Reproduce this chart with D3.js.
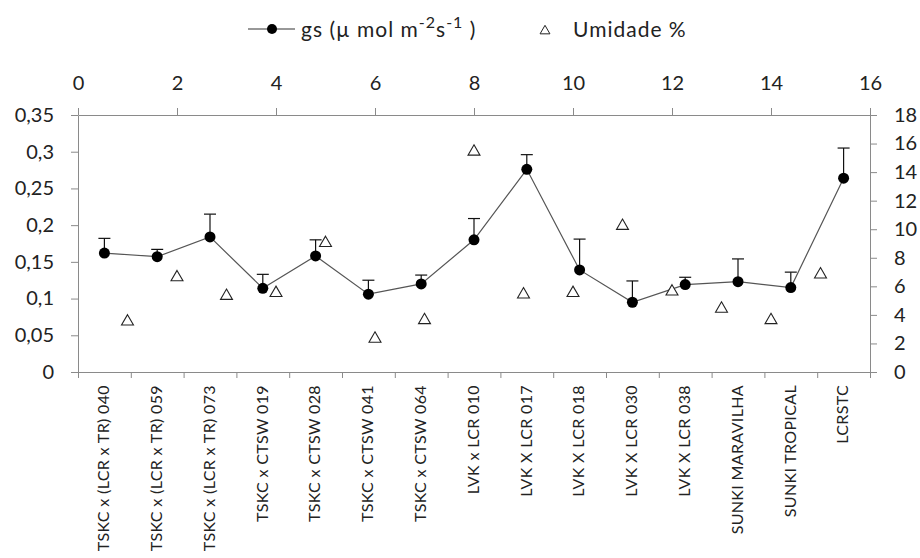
<!DOCTYPE html>
<html>
<head>
<meta charset="utf-8">
<script src="https://cdn.jsdelivr.net/npm/d3@7"></script>
<style>
  html, body { margin: 0; padding: 0; background: #fff; }
  svg { display: block; }
  text { font-family: Lato, "Open Sans", sans-serif; fill: #222; }
</style>
</head>
<body>
<svg id="chart" width="920" height="558"></svg>
<script>
// Genotypes along the category axis
const categories = [
  "TSKC x (LCR x TR) 040",
  "TSKC x (LCR x TR) 059",
  "TSKC x (LCR x TR) 073",
  "TSKC x CTSW 019",
  "TSKC x CTSW 028",
  "TSKC x CTSW 041",
  "TSKC x CTSW 064",
  "LVK x LCR 010",
  "LVK X LCR 017",
  "LVK X LCR 018",
  "LVK X LCR 030",
  "LVK X LCR 038",
  "SUNKI MARAVILHA",
  "SUNKI TROPICAL",
  "LCRSTC"
];

// Stomatal conductance gs (µmol m-2 s-1) and its upper error
const gsValues = [0.162, 0.157, 0.184, 0.114, 0.158, 0.106, 0.120, 0.180, 0.276, 0.139, 0.095, 0.119, 0.123, 0.115, 0.264];
const gsError  = [0.020, 0.010, 0.031, 0.019, 0.022, 0.019, 0.012, 0.029, 0.020, 0.042, 0.029, 0.010, 0.031, 0.021, 0.041];

// Soil moisture (%) plotted against the secondary axes
const umidadeX = [1, 2, 3, 4, 5, 6, 7, 8, 9, 10, 11, 12, 13, 14, 15];
const umidadeValues = [3.6, 6.7, 5.4, 5.6, 9.1, 2.4, 3.7, 15.5, 5.5, 5.6, 10.3, 5.7, 4.5, 3.7, 6.9];

// Tick values
const leftTicks = [0, 0.05, 0.1, 0.15, 0.2, 0.25, 0.3, 0.35];
const rightTicks = [0, 2, 4, 6, 8, 10, 12, 14, 16, 18];
const topTicks = [0, 2, 4, 6, 8, 10, 12, 14, 16];

const svg = d3.select("#chart");
const L = 78, R = 870, T = 115, B = 372;
const axisColor = "#8a8a8a";

const xBand = d3.scaleBand().domain(categories).range([L, R]);
const xTop = d3.scaleLinear().domain([0, 16]).range([L, R]);
const yLeft = d3.scaleLinear().domain([0, 0.35]).range([B, T]);
const yRight = d3.scaleLinear().domain([0, 18]).range([B, T]);
const xEdge = d3.scaleLinear().domain([0, categories.length]).range([L, R]);

const fmtComma = d => String(d).replace(".", ",");

function styleAxis(g, size) {
  g.select(".domain").attr("stroke", axisColor).attr("stroke-width", 1);
  g.selectAll(".tick line").attr("stroke", axisColor);
  g.selectAll(".tick text").attr("font-size", size).attr("fill", "#222")
    .attr("font-family", "Lato, 'Open Sans', sans-serif");
}

// Left axis
svg.append("g").attr("transform", `translate(${L},0)`)
  .call(d3.axisLeft(yLeft).tickValues(leftTicks).tickFormat(fmtComma)
    .tickSize(7).tickSizeOuter(0).tickPadding(17))
  .call(g => styleAxis(g, 20));

// Right axis
svg.append("g").attr("transform", `translate(${R},0)`)
  .call(d3.axisRight(yRight).tickValues(rightTicks)
    .tickSize(7).tickSizeOuter(0).tickPadding(17))
  .call(g => styleAxis(g, 20));

// Top axis
svg.append("g").attr("transform", `translate(0,${T})`)
  .call(d3.axisTop(xTop).tickValues(topTicks)
    .tickSize(7).tickSizeOuter(0).tickPadding(18))
  .call(g => styleAxis(g, 20));

// Bottom category axis: ticks between categories
svg.append("g").attr("transform", `translate(0,${B})`)
  .call(d3.axisBottom(xEdge).ticks(categories.length).tickFormat("")
    .tickSize(6).tickSizeOuter(0))
  .call(g => styleAxis(g, 15));

// Category labels, rotated
svg.append("g").selectAll("text")
  .data(categories)
  .join("text")
  .attr("transform", d => `translate(${xBand(d) + xBand.bandwidth() / 2 - 1},385) rotate(-90)`)
  .attr("text-anchor", "end")
  .attr("dy", "0.36em")
  .attr("font-size", 16)
  .attr("letter-spacing", 0.35)
  .text(d => d);

// gs line
const gsData = categories.map((c, i) => ({ c, v: gsValues[i], e: gsError[i] }));
const cx = d => xBand(d.c) + xBand.bandwidth() / 2;

svg.append("path")
  .datum(gsData)
  .attr("fill", "none")
  .attr("stroke", "#555")
  .attr("stroke-width", 1.2)
  .attr("d", d3.line().x(cx).y(d => yLeft(d.v)));

// Upper error bars
const eb = svg.append("g").attr("stroke", "#111").attr("stroke-width", 1.2);
eb.selectAll("line.v").data(gsData).join("line").attr("class", "v")
  .attr("x1", cx).attr("x2", cx)
  .attr("y1", d => yLeft(d.v)).attr("y2", d => yLeft(d.v + d.e));
eb.selectAll("line.c").data(gsData).join("line").attr("class", "c")
  .attr("x1", d => cx(d) - 6).attr("x2", d => cx(d) + 6)
  .attr("y1", d => yLeft(d.v + d.e)).attr("y2", d => yLeft(d.v + d.e));

// gs markers
svg.append("g").selectAll("circle").data(gsData).join("circle")
  .attr("cx", cx).attr("cy", d => yLeft(d.v)).attr("r", 5.5)
  .attr("fill", "#000");

// Umidade triangles
const tri = d3.symbol().type(d3.symbolTriangle).size(62);
svg.append("g").selectAll("path").data(umidadeX.map((x, i) => ({ x, v: umidadeValues[i] })))
  .join("path")
  .attr("d", tri)
  .attr("transform", d => `translate(${xTop(d.x)},${yRight(d.v) + 1})`)
  .attr("fill", "#fff")
  .attr("stroke", "#222")
  .attr("stroke-width", 1.1);

// Legend
const lg = svg.append("g");
lg.append("line").attr("x1", 248).attr("x2", 295).attr("y1", 29).attr("y2", 29)
  .attr("stroke", "#333").attr("stroke-width", 1.2);
lg.append("circle").attr("cx", 272).attr("cy", 29).attr("r", 5).attr("fill", "#000");
const lt = lg.append("text").attr("x", 301).attr("y", 37).attr("font-size", 21)
  .attr("letter-spacing", 1);
lt.append("tspan").text("gs (µ mol m");
lt.append("tspan").attr("dy", -9).attr("font-size", 16).text("-2");
lt.append("tspan").attr("dy", 9).text("s");
lt.append("tspan").attr("dy", -9).attr("font-size", 16).text("-1");
lt.append("tspan").attr("dy", 9).text(" )");

lg.append("path").attr("d", d3.symbol().type(d3.symbolTriangle).size(42))
  .attr("transform", "translate(545,31)")
  .attr("fill", "#fff").attr("stroke", "#222").attr("stroke-width", 1);
lg.append("text").attr("x", 573).attr("y", 37).attr("font-size", 21)
  .attr("letter-spacing", 1).text("Umidade %");
</script>
</body>
</html>
